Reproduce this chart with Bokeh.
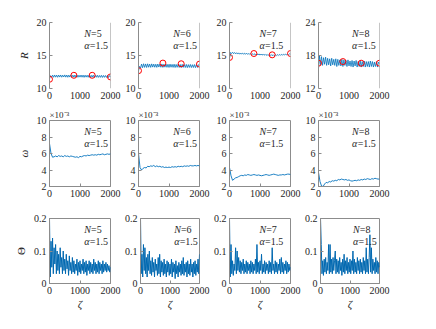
import numpy as np
from bokeh.plotting import figure
from bokeh.layouts import row, column
from bokeh.models import Range1d, FixedTicker, Label, CustomJSTickFormatter, Span
from bokeh.embed import file_html
from bokeh.resources import INLINE

# ---------------- data ----------------
N_list = [5, 6, 7, 8]
alpha_text = "1.5"
x_ticks = [0, 1000, 2000]

# Row 1: R
R_N5 = [11.45, 11.95, 11.72, 12.02, 11.70, 12.05, 11.72, 12.03, 11.70, 12.04, 11.73, 12.05, 11.71, 12.02,
        11.74, 12.06, 11.72, 12.04, 11.70, 12.03, 11.73, 12.05, 11.72, 12.02, 11.71, 12.04, 11.73, 12.03,
        11.70, 12.02, 11.72, 12.04, 11.71, 12.03, 11.69, 12.02, 11.72, 12.01, 11.70, 12.03, 11.68, 12.00,
        11.71, 12.02, 11.69, 11.99, 11.70, 12.01, 11.68, 11.98, 11.69, 12.00, 11.67, 11.98, 11.69, 11.97,
        11.68, 11.99, 11.66, 11.96, 11.75]
R_N6 = [12.65, 13.35, 13.10, 13.70, 13.15, 13.75, 13.20, 13.72, 13.18, 13.74, 13.22, 13.70, 13.20, 13.73,
        13.24, 13.70, 13.22, 13.68, 13.20, 13.71, 13.25, 13.69, 13.22, 13.72, 13.20, 13.68, 13.23, 13.70,
        13.21, 13.67, 13.19, 13.69, 13.22, 13.66, 13.20, 13.68, 13.18, 13.65, 13.21, 13.67, 13.19, 13.64,
        13.17, 13.66, 13.20, 13.63, 13.18, 13.65, 13.16, 13.62, 13.19, 13.64, 13.17, 13.61, 13.18, 13.63,
        13.16, 13.62, 13.19, 13.60, 13.55]
R_N7 = [14.55, 15.45, 15.30, 15.50, 15.28, 15.45, 15.25, 15.42, 15.22, 15.40, 15.20, 15.38, 15.22, 15.36,
        15.18, 15.35, 15.20, 15.34, 15.16, 15.32, 15.15, 15.30, 15.14, 15.28, 15.12, 15.27, 15.10, 15.26,
        15.08, 15.24, 15.06, 15.22, 15.05, 15.20, 15.04, 15.18, 15.02, 15.17, 15.00, 15.16, 14.98, 15.14,
        14.97, 15.12, 14.96, 15.12, 14.98, 15.14, 15.00, 15.16, 15.02, 15.18, 15.04, 15.20, 15.06, 15.22,
        15.08, 15.24, 15.10, 15.25, 15.20]
R_N8 = [15.6, 17.9, 16.3, 17.8, 16.2, 17.6, 16.4, 17.7, 16.2, 17.5, 16.3, 17.4, 16.1, 17.5, 16.3, 17.3,
        16.2, 17.4, 16.0, 17.3, 16.2, 17.2, 16.1, 17.3, 16.0, 17.2, 16.2, 17.1, 16.0, 17.2, 16.1, 17.0,
        16.0, 17.1, 15.9, 17.0, 16.1, 17.1, 15.9, 16.9, 16.0, 17.0, 15.9, 16.9, 16.0, 17.0, 15.9, 16.9,
        16.0, 16.9, 15.9, 17.0, 16.0, 16.9, 15.9, 16.8, 16.0, 16.9, 15.9, 16.8, 16.5]
R_series = [R_N5, R_N6, R_N7, R_N8]

R_marker_x = [0, 800, 1400, 2000]
R_marker_N5 = [11.4, 12.0, 12.0, 11.75]
R_marker_N6 = [12.7, 13.85, 13.75, 13.7]
R_marker_N7 = [14.7, 15.3, 15.1, 15.3]
R_marker_N8 = [16.6, 16.9, 16.6, 16.6]
R_markers = [R_marker_N5, R_marker_N6, R_marker_N7, R_marker_N8]

R_yrange = [(10, 20), (10, 20), (10, 20), (12, 24)]
R_yticks = [[10, 15, 20], [10, 15, 20], [10, 15, 20], [12, 18, 24]]

# Row 2: omega (units of 1e-3)
W_N5 = [7.2, 6.0, 5.55, 5.6, 5.7, 5.6, 5.75, 5.65, 5.7, 5.6, 5.75, 5.65, 5.7, 5.6, 5.7, 5.65, 5.6,
        5.55, 5.6, 5.5, 5.65, 5.6, 5.7, 5.75, 5.7, 5.8, 5.75, 5.8, 5.85, 5.8, 5.85, 5.8, 5.9, 5.85,
        5.9, 5.95, 5.85, 5.9, 5.95, 5.9, 5.95]
W_N6 = [6.0, 4.3, 4.0, 4.2, 4.3, 4.25, 4.45, 4.4, 4.5, 4.45, 4.55, 4.4, 4.5, 4.4, 4.45, 4.35, 4.4,
        4.3, 4.35, 4.3, 4.35, 4.3, 4.4, 4.35, 4.4, 4.35, 4.45, 4.4, 4.45, 4.4, 4.5, 4.45, 4.5, 4.45,
        4.55, 4.5, 4.5, 4.55, 4.5, 4.55, 4.5]
W_N7 = [4.3, 3.3, 2.75, 2.9, 3.05, 3.1, 3.2, 3.3, 3.35, 3.3, 3.4, 3.35, 3.45, 3.4, 3.35, 3.4, 3.45,
        3.4, 3.35, 3.4, 3.35, 3.3, 3.35, 3.4, 3.45, 3.4, 3.35, 3.4, 3.45, 3.5, 3.45, 3.4, 3.35, 3.4,
        3.4, 3.45, 3.4, 3.45, 3.5, 3.5, 3.45]
W_N8 = [3.7, 2.6, 2.05, 2.0, 2.3, 2.5, 2.45, 2.6, 2.55, 2.7, 2.65, 2.75, 2.7, 2.85, 2.8, 2.9, 2.85,
        2.8, 2.85, 2.75, 2.8, 2.7, 2.65, 2.7, 2.75, 2.7, 2.8, 2.75, 2.85, 2.8, 2.9, 2.85, 2.95, 2.9,
        2.85, 2.95, 2.9, 3.0, 2.95, 2.9, 2.9]
W_series = [W_N5, W_N6, W_N7, W_N8]
W_yrange = (2, 10)
W_yticks = [2, 4, 6, 8, 10]

# Row 3: Theta
T_N5 = [0.20, 0.02, 0.13, 0.05, 0.14, 0.03, 0.11, 0.06, 0.12, 0.03, 0.10, 0.04, 0.09, 0.03, 0.11,
        0.05, 0.08, 0.03, 0.10, 0.04, 0.075, 0.03, 0.09, 0.045, 0.07, 0.025, 0.085, 0.04, 0.065, 0.03,
        0.08, 0.035, 0.07, 0.03, 0.06, 0.04, 0.075, 0.025, 0.065, 0.035, 0.07, 0.03, 0.06, 0.04, 0.075,
        0.03, 0.065, 0.035, 0.07, 0.025, 0.06, 0.04, 0.07, 0.03, 0.065, 0.035, 0.06, 0.03, 0.075, 0.04,
        0.065, 0.03, 0.06, 0.035, 0.07, 0.03, 0.065, 0.04, 0.06, 0.03, 0.07, 0.035, 0.06, 0.04, 0.065,
        0.035, 0.06, 0.04, 0.055, 0.035, 0.05]
T_N6 = [0.20, 0.03, 0.09, 0.02, 0.12, 0.04, 0.11, 0.03, 0.08, 0.02, 0.09, 0.04, 0.10, 0.03, 0.07,
        0.025, 0.08, 0.035, 0.065, 0.02, 0.075, 0.04, 0.06, 0.025, 0.08, 0.03, 0.09, 0.02, 0.07, 0.035,
        0.065, 0.025, 0.075, 0.03, 0.06, 0.02, 0.07, 0.035, 0.065, 0.025, 0.06, 0.03, 0.075, 0.02, 0.065,
        0.035, 0.06, 0.015, 0.07, 0.03, 0.055, 0.02, 0.065, 0.035, 0.06, 0.025, 0.07, 0.03, 0.08, 0.025,
        0.06, 0.035, 0.065, 0.02, 0.07, 0.03, 0.06, 0.025, 0.075, 0.035, 0.06, 0.02, 0.065, 0.03, 0.07,
        0.025, 0.06, 0.035, 0.075, 0.03, 0.09]
T_N7 = [0.20, 0.02, 0.12, 0.03, 0.07, 0.025, 0.06, 0.04, 0.11, 0.03, 0.10, 0.04, 0.08, 0.035, 0.07,
        0.03, 0.065, 0.04, 0.075, 0.03, 0.06, 0.035, 0.07, 0.03, 0.065, 0.04, 0.06, 0.03, 0.07, 0.035,
        0.065, 0.03, 0.06, 0.04, 0.075, 0.03, 0.12, 0.035, 0.065, 0.03, 0.07, 0.04, 0.09, 0.03, 0.06,
        0.035, 0.07, 0.03, 0.065, 0.04, 0.06, 0.03, 0.07, 0.035, 0.065, 0.03, 0.11, 0.04, 0.06, 0.03,
        0.07, 0.035, 0.065, 0.03, 0.06, 0.04, 0.075, 0.03, 0.08, 0.035, 0.065, 0.03, 0.06, 0.04, 0.07,
        0.03, 0.065, 0.035, 0.06, 0.04, 0.05]
T_N8 = [0.20, 0.12, 0.03, 0.07, 0.025, 0.075, 0.035, 0.08, 0.03, 0.065, 0.04, 0.12, 0.03, 0.12, 0.035,
        0.075, 0.03, 0.08, 0.04, 0.07, 0.10, 0.03, 0.075, 0.035, 0.07, 0.03, 0.08, 0.04, 0.065, 0.025,
        0.075, 0.035, 0.09, 0.03, 0.07, 0.04, 0.08, 0.03, 0.065, 0.035, 0.075, 0.03, 0.07, 0.04, 0.10,
        0.03, 0.075, 0.035, 0.065, 0.03, 0.08, 0.04, 0.07, 0.03, 0.075, 0.035, 0.065, 0.03, 0.08, 0.04,
        0.07, 0.03, 0.11, 0.035, 0.075, 0.03, 0.08, 0.15, 0.035, 0.11, 0.03, 0.075, 0.04, 0.065, 0.03,
        0.08, 0.035, 0.07, 0.03, 0.065, 0.05]
T_series = [T_N5, T_N6, T_N7, T_N8]
T_yrange = (0, 0.2)
T_yticks = [0, 0.1, 0.2]

# ---------------- style ----------------
FONT = "Liberation Serif"
AX = "#8c8c8c"
TXT = "#262626"
BLUE = "#0072BD"
RED = "#FF0000"

frame_w = 61
frame_h = 66
lefts = [49, 17, 19, 17]
rights = [11, 11, 11, 16]
tops = [22, 14, 14]
bottoms = [18, 18, 28]
label_xfrac = [0.57, 0.57, 0.49, 0.55]

fmt_code = "return String(tick);"


def style_axis(ax, ticks):
    ax.ticker = FixedTicker(ticks=ticks)
    ax.formatter = CustomJSTickFormatter(code=fmt_code)
    ax.axis_line_color = AX
    ax.major_tick_line_color = AX
    ax.major_tick_in = 3
    ax.major_tick_out = 0
    ax.minor_tick_line_color = None
    ax.major_label_text_font = FONT
    ax.major_label_text_font_size = "10px"
    ax.major_label_text_color = TXT
    ax.major_label_standoff = 3
    ax.axis_label_text_font = FONT
    ax.axis_label_text_font_size = "11px"
    ax.axis_label_text_color = TXT
    ax.axis_label_text_font_style = "italic"
    ax.axis_label_standoff = 4


def make_fig(r, c, yr, yticks, title=None):
    kw = dict(
        width=lefts[c] + frame_w + rights[c],
        height=tops[r] + frame_h + bottoms[r],
        x_range=Range1d(0, 2000), y_range=Range1d(*yr),
        output_backend="svg", toolbar_location=None,
        min_border_left=lefts[c], min_border_right=rights[c],
        min_border_top=tops[r], min_border_bottom=bottoms[r],
        title=title,
    )
    p = figure(**kw)
    if title:
        p.title.align = "left"
        p.title.text_font = FONT
        p.title.text_font_size = "9px"
        p.title.text_font_style = "normal"
        p.title.text_color = TXT
        p.title.standoff = 1
        p.title.offset = 0
    p.grid.visible = False
    p.background_fill_color = "white"
    p.border_fill_color = "white"
    style_axis(p.xaxis[0], x_ticks)
    style_axis(p.yaxis[0], yticks)
    return p


def add_texts(p, c, yr, N):
    lo, hi = yr
    x0 = label_xfrac[c] * 2000
    yN = lo + 0.826 * (hi - lo)
    ya = lo + 0.644 * (hi - lo)
    common = dict(text_font=FONT, text_font_size="10px", text_color=TXT,
                  text_baseline="alphabetic", text_align="left")
    p.add_layout(Label(x=x0, y=yN, text="N", text_font_style="italic", **common))
    p.add_layout(Label(x=x0, y=yN, x_offset=6.8, text=f"={N}", **common))
    p.add_layout(Label(x=x0, y=ya, text="α", text_font_style="italic", **common))
    p.add_layout(Label(x=x0, y=ya, x_offset=5.6, text="=" + alpha_text, **common))


rows = []
# Row 0
figs = []
for c in range(4):
    yr = R_yrange[c]
    p = make_fig(0, c, yr, R_yticks[c])
    p.outline_line_color = None
    p.xaxis[0].axis_line_color = None
    p.xaxis[0].major_tick_line_color = None
    p.add_layout(Span(location=2000, dimension="height", line_color=AX, line_width=1))
    xs = np.linspace(0, 2000, len(R_series[c]))
    p.line(xs, R_series[c], line_color=BLUE, line_width=0.8)
    p.scatter(R_marker_x, R_markers[c], marker="circle", size=6, fill_color=None,
              line_color=RED, line_width=1)
    add_texts(p, c, yr, N_list[c])
    if c == 0:
        p.yaxis[0].axis_label = "R"
    figs.append(p)
rows.append(row(*figs))

# Row 1
figs = []
for c in range(4):
    p = make_fig(1, c, W_yrange, W_yticks, title="×10⁻³")
    p.outline_line_color = AX
    xs = np.linspace(0, 2000, len(W_series[c]))
    p.line(xs, W_series[c], line_color=BLUE, line_width=0.9)
    add_texts(p, c, W_yrange, N_list[c])
    if c == 0:
        p.yaxis[0].axis_label = "ω"
    figs.append(p)
rows.append(row(*figs))

# Row 2
figs = []
for c in range(4):
    p = make_fig(2, c, T_yrange, T_yticks)
    p.outline_line_color = AX
    xs = np.linspace(0, 2000, len(T_series[c]))
    p.line(xs, T_series[c], line_color="#0068B0", line_width=1.0)
    add_texts(p, c, T_yrange, N_list[c])
    p.xaxis[0].axis_label = "ζ"
    p.xaxis[0].axis_label_standoff = 1
    if c == 0:
        p.yaxis[0].axis_label = "Θ"
        p.yaxis[0].axis_label_text_font_style = "normal"
    figs.append(p)
rows.append(row(*figs))

layout = column(*rows)
open("out.html", "w").write(file_html(layout, INLINE))
